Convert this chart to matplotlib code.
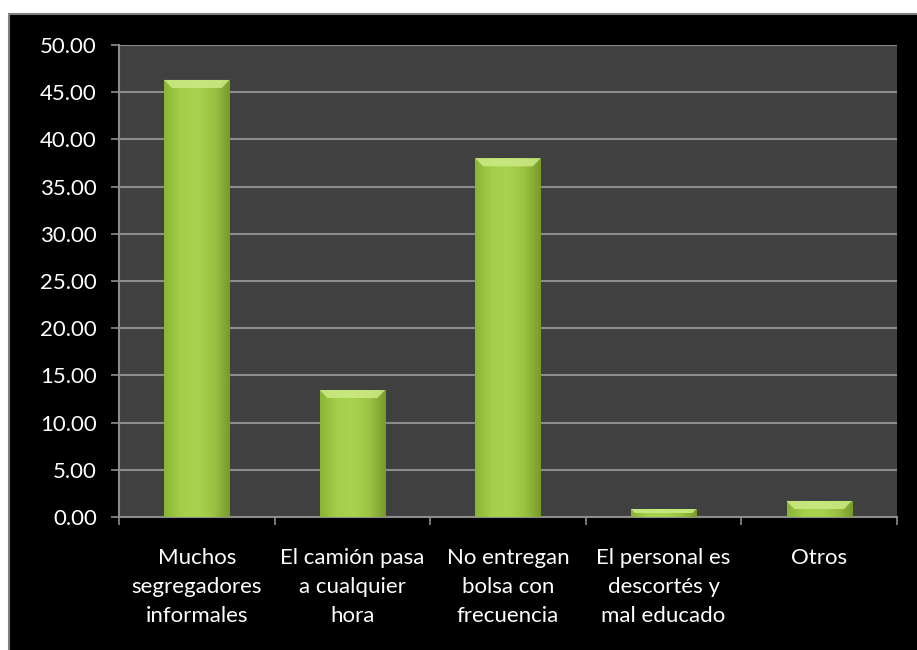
import matplotlib
matplotlib.use("Agg")
import matplotlib.pyplot as plt
import numpy as np
from matplotlib.patches import Rectangle, Polygon
from matplotlib.colors import LinearSegmentedColormap

categories = ["Muchos\nsegregadores\ninformales", "El camión pasa\na cualquier\nhora",
              "No entregan\nbolsa con\nfrecuencia", "El personal es\ndescortés y\nmal educado", "Otros"]
values = [46.3, 13.45, 38.0, 0.85, 1.7]
yticks = [0, 5, 10, 15, 20, 25, 30, 35, 40, 45, 50]

plt.rcParams['font.family'] = ['Lato', 'DejaVu Sans']

fig = plt.figure(figsize=(9.17, 6.5), dpi=100, facecolor='white')
bg = Rectangle((9/917, -0.01), 1.0, 1 - 14/650 + 0.01, transform=fig.transFigure,
               facecolor='black', edgecolor='#808080', linewidth=1.5, zorder=-5)
fig.patches.append(bg)

ax = fig.add_axes([119/917, (650-517)/650, (897-119)/917, (517-45)/650])
ax.set_facecolor('#404040')
x = np.arange(len(values))
bars = ax.bar(x, values, width=0.42, color='#9DC942', edgecolor='none', zorder=3)

# gradient shading on bars
grad = np.linspace(0, 1, 100).reshape(1, -1)
cmap = LinearSegmentedColormap.from_list('g', ['#8AB534', '#A3CF4B', '#A8D350', '#9CC444', '#7A9A2A'])
for b in bars:
    x0, y0, w, h = b.get_x(), b.get_y(), b.get_width(), b.get_height()
    im = ax.imshow(grad, cmap=cmap, extent=[x0, x0 + w, y0, y0 + h], aspect='auto', zorder=4)
    im.set_clip_path(b)
    top_h = min(0.85, h * 0.5)
    inset = 0.05 * top_h / 0.85
    top = y0 + h
    ax.add_patch(Polygon([(x0, top), (x0 + w, top), (x0 + w - inset, top - top_h),
                          (x0 + inset, top - top_h)], closed=True,
                         facecolor='#CDEB86', edgecolor='none', alpha=0.85, zorder=5))

ax.set_xlim(-0.5, len(values) - 0.5)
ax.set_ylim(0, 50)
ax.set_yticks(yticks)
ax.set_yticklabels([f"{v:.2f}" for v in yticks])
ax.yaxis.grid(True, color='#8C8C8C', linewidth=1.5, zorder=1)
ax.set_axisbelow(True)

ax.set_xticks(x)
ax.set_xticklabels(categories, linespacing=1.55)
ax.set_xticks(np.arange(-0.5, len(values)), minor=True)
ax.tick_params(axis='x', which='major', length=0, pad=22.5, colors='white', labelsize=16)
ax.tick_params(axis='x', which='minor', length=6, width=1.2, color='#8C8C8C', direction='out')
ax.tick_params(axis='y', length=6, width=1.2, color='#8C8C8C', labelcolor='white', labelsize=16, pad=10)

for s in ['top', 'right']:
    ax.spines[s].set_visible(False)
for s in ['left', 'bottom']:
    ax.spines[s].set_color('#8C8C8C')
    ax.spines[s].set_linewidth(1.5)

fig.savefig('out.png', dpi=100, facecolor='white')
